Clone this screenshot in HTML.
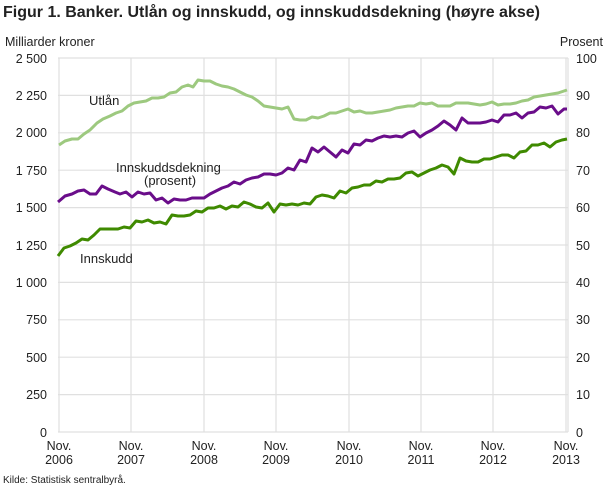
<!DOCTYPE html>
<html><head><meta charset="utf-8"><style>
body{margin:0;background:#fff;}
svg text{font-family:"Liberation Sans","DejaVu Sans",sans-serif;fill:#222;}
</style></head><body>
<svg width="610" height="488" viewBox="0 0 610 488" xmlns="http://www.w3.org/2000/svg">
<text x="3" y="17" font-size="16" font-weight="bold">Figur 1. Banker. Utlån og innskudd, og innskuddsdekning (høyre akse)</text>
<text x="5" y="46" font-size="12.5">Milliarder kroner</text>
<text x="603" y="46" font-size="12.5" text-anchor="end">Prosent</text>
<g stroke="#e0e0e0" stroke-width="1.2">
<line x1="58" y1="58" x2="568" y2="58"/><line x1="58" y1="95.4" x2="568" y2="95.4"/><line x1="58" y1="132.8" x2="568" y2="132.8"/><line x1="58" y1="170.2" x2="568" y2="170.2"/><line x1="58" y1="207.6" x2="568" y2="207.6"/><line x1="58" y1="245" x2="568" y2="245"/><line x1="58" y1="282.4" x2="568" y2="282.4"/><line x1="58" y1="319.8" x2="568" y2="319.8"/><line x1="58" y1="357.2" x2="568" y2="357.2"/><line x1="58" y1="394.6" x2="568" y2="394.6"/><line x1="58" y1="432" x2="568" y2="432"/>
<line x1="59" y1="58" x2="59" y2="432"/><line x1="131" y1="58" x2="131" y2="432"/><line x1="204" y1="58" x2="204" y2="432"/><line x1="276" y1="58" x2="276" y2="432"/><line x1="349" y1="58" x2="349" y2="432"/><line x1="421" y1="58" x2="421" y2="432"/><line x1="493" y1="58" x2="493" y2="432"/><line x1="566" y1="58" x2="566" y2="432"/><line x1="568" y1="58" x2="568" y2="432"/>
</g>
<g font-size="12.5" text-anchor="end">
<text x="47" y="63">2 500</text><text x="47" y="100">2 250</text><text x="47" y="137">2 000</text><text x="47" y="175">1 750</text><text x="47" y="212">1 500</text><text x="47" y="250">1 250</text><text x="47" y="287">1 000</text><text x="47" y="324">750</text><text x="47" y="362">500</text><text x="47" y="399">250</text><text x="47" y="437">0</text>
</g>
<g font-size="12.5">
<text x="576" y="63">100</text><text x="576" y="100">90</text><text x="576" y="137">80</text><text x="576" y="175">70</text><text x="576" y="212">60</text><text x="576" y="250">50</text><text x="576" y="287">40</text><text x="576" y="324">30</text><text x="576" y="362">20</text><text x="576" y="399">10</text><text x="576" y="437">0</text>
</g>
<g font-size="12.5" text-anchor="middle">
<text x="59" y="450">Nov.</text><text x="59" y="464">2006</text>
<text x="131" y="450">Nov.</text><text x="131" y="464">2007</text>
<text x="204" y="450">Nov.</text><text x="204" y="464">2008</text>
<text x="276" y="450">Nov.</text><text x="276" y="464">2009</text>
<text x="349" y="450">Nov.</text><text x="349" y="464">2010</text>
<text x="421" y="450">Nov.</text><text x="421" y="464">2011</text>
<text x="493" y="450">Nov.</text><text x="493" y="464">2012</text>
<text x="566" y="450">Nov.</text><text x="566" y="464">2013</text>
</g>
<text x="3" y="483" font-size="10">Kilde: Statistisk sentralbyrå.</text>
<g fill="none" stroke-width="3" stroke-linejoin="round">
<polyline stroke="#9dc97f" points="59,145 65,141 72,139 78,139 84,134 90,130 97,123 103,119 110,116 116,113 122,111 128,106 134,103 140,102 146,101 152,98 158,98 164,97 170,93 176,92 182,87 188,85 193,87 198,80 204,81 210,81 216,84 222,86 228,87 234,89 240,92 246,95 252,97 258,101 264,106 270,107 276,108 282,109 288,107 294,119 300,120 306,120 312,117 318,118 324,116 330,113 336,113 342,111 348,109 354,112 360,111 366,113 372,113 378,112 384,111 390,110 396,108 402,107 408,106 414,106 420,103 426,104 432,103 438,106 444,106 450,106 456,103 462,103 468,103 474,104 480,105 486,104 492,102 498,105 504,104 510,104 516,103 522,101 528,100 534,97 540,96 546,95 552,94 558,93 564,91 567,90"/>
<polyline stroke="#6a0d8a" points="58,202 65,196 72,194 78,191 84,190 90,194 96,194 102,186 108,189 115,192 120,194 126,192 132,197 138,192 144,194 150,193 156,200 162,198 168,203 174,199 180,200 186,200 192,198 198,198 204,198 210,194 216,191 222,188 228,186 234,182 240,184 246,180 252,178 258,177 264,174 270,174 276,175 282,173 288,168 294,170 300,160 306,162 312,148 318,152 324,147 330,152 336,157 342,150 348,153 354,144 360,145 366,140 372,141 378,138 384,136 390,137 396,136 402,137 408,133 414,131 420,137 426,133 432,130 438,126 444,121 450,125 456,130 462,118 468,123 474,123 480,123 486,122 492,120 498,122 504,115 510,115 516,113 522,118 528,113 534,112 540,107 546,108 552,106 558,114 564,109 567,109"/>
<polyline stroke="#3f8a00" points="58,256 64,248 70,246 76,243 82,239 88,240 94,235 100,229 106,229 112,229 118,229 124,227 130,228 136,221 142,222 148,220 154,223 160,222 166,224 172,215 178,216 184,216 190,215 196,211 202,212 208,208 214,208 220,206 226,209 232,206 238,207 244,202 250,204 256,207 262,208 268,203 274,212 280,204 286,205 292,204 298,205 304,203 310,204 316,197 322,195 328,196 334,198 340,191 346,193 352,188 358,187 364,185 370,185 376,181 382,182 388,179 394,179 400,178 406,173 412,172 418,176 424,173 430,170 436,168 442,165 448,167 454,174 460,158 466,161 472,162 478,162 484,159 490,159 496,157 502,155 508,155 514,158 520,152 526,151 532,145 538,145 544,143 550,147 556,142 562,140 567,139"/>
</g>
<g font-size="13">
<text x="89" y="105">Utlån</text>
<text x="116" y="172">Innskuddsdekning</text>
<text x="144" y="185">(prosent)</text>
<text x="80" y="263">Innskudd</text>
</g>
</svg>
</body></html>
